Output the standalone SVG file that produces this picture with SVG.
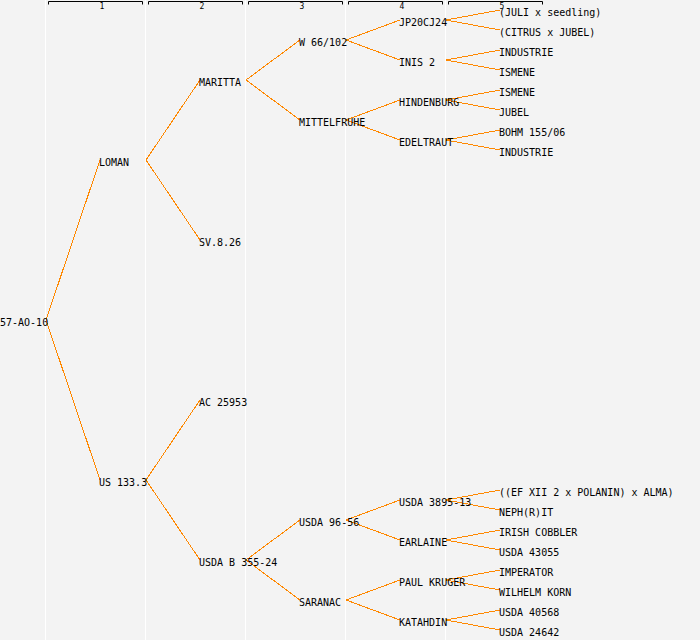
<svg xmlns="http://www.w3.org/2000/svg" width="700" height="640" viewBox="0 0 700 640">
<style>
.bg{fill:#f3f3f3}
.sep{stroke:#ffffff;stroke-width:1}
.br{fill:none;stroke:#000;stroke-width:1}
.hd{font-family:"DejaVu Sans Mono","Liberation Mono",monospace;font-size:8px;fill:#000;text-anchor:middle}
.t{font-family:"DejaVu Sans Mono","Liberation Mono",monospace;font-size:10px;fill:#000}
.c line{stroke:#ff8800;stroke-width:1;shape-rendering:crispEdges}
</style>
<rect class="bg" x="0" y="0" width="700" height="640"/>
<g id="grid">
<line class="sep" x1="45.5" y1="0" x2="45.5" y2="640"/>
<line class="sep" x1="145.5" y1="0" x2="145.5" y2="640"/>
<line class="sep" x1="245.5" y1="0" x2="245.5" y2="640"/>
<line class="sep" x1="345.5" y1="0" x2="345.5" y2="640"/>
<line class="sep" x1="445.5" y1="0" x2="445.5" y2="640"/>
<path class="br" d="M48.5,4.5V1.5H142.5V4.5M148.5,4.5V1.5H242.5V4.5M248.5,4.5V1.5H342.5V4.5M348.5,4.5V1.5H442.5V4.5M448.5,4.5V1.5H542.5V4.5"/>
<text class="hd" x="102" y="9">1</text>
<text class="hd" x="202" y="9">2</text>
<text class="hd" x="302" y="9">3</text>
<text class="hd" x="402" y="9">4</text>
<text class="hd" x="502" y="9">5</text>
</g>
<g id="connectors" class="c">
<line x1="46" y1="320" x2="100" y2="160"/>
<line x1="46" y1="320" x2="100" y2="480"/>
<line x1="146" y1="160" x2="200" y2="80"/>
<line x1="146" y1="160" x2="200" y2="240"/>
<line x1="146" y1="480" x2="200" y2="400"/>
<line x1="146" y1="480" x2="200" y2="560"/>
<line x1="246" y1="80" x2="300" y2="40"/>
<line x1="246" y1="80" x2="300" y2="120"/>
<line x1="246" y1="560" x2="300" y2="520"/>
<line x1="246" y1="560" x2="300" y2="600"/>
<line x1="346" y1="40" x2="400" y2="20"/>
<line x1="346" y1="40" x2="400" y2="60"/>
<line x1="346" y1="120" x2="400" y2="100"/>
<line x1="346" y1="120" x2="400" y2="140"/>
<line x1="346" y1="520" x2="400" y2="500"/>
<line x1="346" y1="520" x2="400" y2="540"/>
<line x1="346" y1="600" x2="400" y2="580"/>
<line x1="346" y1="600" x2="400" y2="620"/>
<line x1="446" y1="20" x2="500" y2="10"/>
<line x1="446" y1="20" x2="500" y2="30"/>
<line x1="446" y1="60" x2="500" y2="50"/>
<line x1="446" y1="60" x2="500" y2="70"/>
<line x1="446" y1="100" x2="500" y2="90"/>
<line x1="446" y1="100" x2="500" y2="110"/>
<line x1="446" y1="140" x2="500" y2="130"/>
<line x1="446" y1="140" x2="500" y2="150"/>
<line x1="446" y1="500" x2="500" y2="490"/>
<line x1="446" y1="500" x2="500" y2="510"/>
<line x1="446" y1="540" x2="500" y2="530"/>
<line x1="446" y1="540" x2="500" y2="550"/>
<line x1="446" y1="580" x2="500" y2="570"/>
<line x1="446" y1="580" x2="500" y2="590"/>
<line x1="446" y1="620" x2="500" y2="610"/>
<line x1="446" y1="620" x2="500" y2="630"/>
</g>
<g id="n-root"><text class="t" x="0" y="326">57-AO-10</text></g>
<g id="n-loman"><text class="t" x="99" y="166">LOMAN</text></g>
<g id="n-us1333"><text class="t" x="99" y="486">US 133.3</text></g>
<g id="n-maritta"><text class="t" x="199" y="86">MARITTA</text></g>
<g id="n-sv826"><text class="t" x="199" y="246">SV.8.26</text></g>
<g id="n-ac25953"><text class="t" x="199" y="406">AC 25953</text></g>
<g id="n-usdab35524"><text class="t" x="199" y="566">USDA B 355-24</text></g>
<g id="n-w66102"><text class="t" x="299" y="46">W 66/102</text></g>
<g id="n-mittelfruhe"><text class="t" x="299" y="126">MITTELFRUHE</text></g>
<g id="n-usda9656"><text class="t" x="299" y="526">USDA 96-56</text></g>
<g id="n-saranac"><text class="t" x="299" y="606">SARANAC</text></g>
<g id="n-jp20cj24"><text class="t" x="399" y="26">JP20CJ24</text></g>
<g id="n-inis2"><text class="t" x="399" y="66">INIS 2</text></g>
<g id="n-hindenburg"><text class="t" x="399" y="106">HINDENBURG</text></g>
<g id="n-edeltraut"><text class="t" x="399" y="146">EDELTRAUT</text></g>
<g id="n-usda389513"><text class="t" x="399" y="506">USDA 3895-13</text></g>
<g id="n-earlaine"><text class="t" x="399" y="546">EARLAINE</text></g>
<g id="n-paulkruger"><text class="t" x="399" y="586">PAUL KRUGER</text></g>
<g id="n-katahdin"><text class="t" x="399" y="626">KATAHDIN</text></g>
<g id="n-l1"><text class="t" x="499" y="16">(JULI x seedling)</text></g>
<g id="n-l2"><text class="t" x="499" y="36">(CITRUS x JUBEL)</text></g>
<g id="n-l3"><text class="t" x="499" y="56">INDUSTRIE</text></g>
<g id="n-l4"><text class="t" x="499" y="76">ISMENE</text></g>
<g id="n-l5"><text class="t" x="499" y="96">ISMENE</text></g>
<g id="n-l6"><text class="t" x="499" y="116">JUBEL</text></g>
<g id="n-l7"><text class="t" x="499" y="136">BOHM 155/06</text></g>
<g id="n-l8"><text class="t" x="499" y="156">INDUSTRIE</text></g>
<g id="n-l9"><text class="t" x="499" y="496">((EF XII 2 x POLANIN) x ALMA)</text></g>
<g id="n-l10"><text class="t" x="499" y="516">NEPH(R)IT</text></g>
<g id="n-l11"><text class="t" x="499" y="536">IRISH COBBLER</text></g>
<g id="n-l12"><text class="t" x="499" y="556">USDA 43055</text></g>
<g id="n-l13"><text class="t" x="499" y="576">IMPERATOR</text></g>
<g id="n-l14"><text class="t" x="499" y="596">WILHELM KORN</text></g>
<g id="n-l15"><text class="t" x="499" y="616">USDA 40568</text></g>
<g id="n-l16"><text class="t" x="499" y="636">USDA 24642</text></g>
</svg>
